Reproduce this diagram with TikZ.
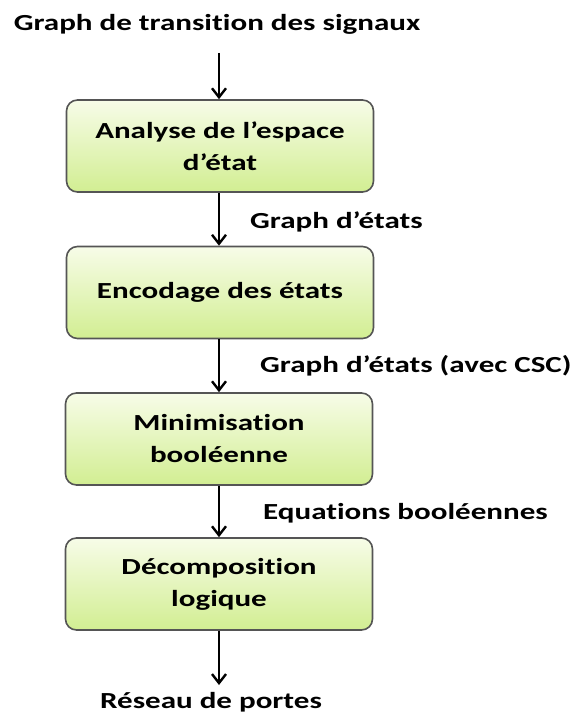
\documentclass[tikz,border=0pt]{standalone}
\usepackage{fontspec}
\setmainfont[FakeStretch=1.35,RawFeature=-liga]{Carlito}
\usetikzlibrary{arrows.meta}
\definecolor{boxtop}{HTML}{F7FCE8}
\definecolor{boxbot}{HTML}{D2EE92}
\definecolor{boxline}{HTML}{555555}
\begin{document}
\begin{tikzpicture}[x=1pt,y=-1pt,
  procbox/.style={draw=boxline,line width=1.6pt,rounded corners=11pt,
    top color=boxtop,bottom color=boxbot,
    minimum width=307pt,minimum height=92pt,inner sep=0pt,
    align=center,font=\fontsize{23}{32}\selectfont\bfseries},
  lbl/.style={font=\fontsize{23}{28}\selectfont\bfseries,inner sep=0pt},
  flow/.style={line width=2.4pt,-{Straight Barb[length=9pt,width=14pt,line width=2.4pt]}}]
\useasboundingbox (0,0) rectangle (571,714);
\node[lbl] (src) at (217,24) {Graph de transition des signaux};
\node[procbox] (b1) at (220,146) {Analyse de l’espace\\d’état};
\node[procbox] (b2) at (220,292.5) {Encodage des états};
\node[procbox] (b3) at (219,439) {Minimisation\\booléenne};
\node[procbox] (b4) at (219,584) {Décomposition\\logique};
\node[lbl,anchor=west] (l1) at (250,222) {Graph d’états};
\node[lbl,anchor=west] (l2) at (260,366) {Graph d’états (avec CSC)};
\node[lbl,anchor=west] (l3) at (263,513) {Equations booléennes};
\node[lbl] (dst) at (211,702) {Réseau de portes};
\coordinate (s0) at (219,53);
\coordinate (e0) at (219,685);
\draw[flow] (s0) -- (b1.north -| s0);
\draw[flow] (b1.south -| s0) -- (b2.north -| s0);
\draw[flow] (b2.south -| s0) -- (b3.north -| s0);
\draw[flow] (b3.south -| s0) -- (b4.north -| s0);
\draw[flow] (b4.south -| s0) -- (e0);
\end{tikzpicture}
\end{document}
